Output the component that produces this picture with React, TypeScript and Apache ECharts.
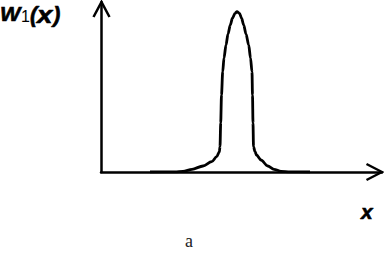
import React, { useEffect, useRef } from "react";
import * as echarts from "echarts";

// Curve sample points (x along axis, height above baseline)
const curveX = [
  49, 74, 82, 91, 102, 110.7, 115.7, 118.3, 119, 119.7, 120.5, 121.7, 123, 125, 127, 129.3, 131.5, 134, 136,
  138.5, 140.5, 142.7, 145, 147.7, 149.5, 151, 151.5, 152, 152.5, 154, 155.5, 160, 166.7, 173, 180, 189, 209,
];
const curveY = [
  0, 0.2, 0.7, 2.7, 6, 10.3, 15.3, 20, 25.3, 49, 77, 100.3, 114, 127, 138, 147, 154, 158.7, 160.3,
  158.7, 154, 147, 138, 127, 114, 100.3, 77, 49, 25.3, 20.5, 17, 12, 6, 2.7, 0.7, 0.2, 0,
];

const xMax = 281;
const yMax = 170;

const yLabelMain = "W";
const yLabelSub = "1";
const yLabelOpen = "(";
const yLabelVar = "x";
const yLabelClose = ")";
const xLabel = "x";
const panelLabel = "a";

const sans = "Liberation Sans, Arial, sans-serif";

export default function App() {
  const ref = useRef<HTMLDivElement>(null);
  useEffect(() => {
    if (!ref.current) return;
    const chart = echarts.init(ref.current, null, { renderer: "svg" });
    const data = curveX.map((x, i) => [x, curveY[i]]);
    const bi = (text: string, x: number, y: number, size: number, sx = 1) => ({
      type: "text",
      x,
      y,
      scaleX: sx,
      style: {
        text,
        fontFamily: sans,
        fontWeight: "bold",
        fontStyle: "italic",
        fontSize: size,
        fill: "#000",
        stroke: "#000",
        lineWidth: 0.6,
        verticalAlign: "top",
      },
    });
    chart.setOption({
      animation: false,
      backgroundColor: "#ffffff",
      grid: { left: 101, right: 2, top: 2, bottom: 81 },
      xAxis: {
        type: "value",
        min: 0,
        max: xMax,
        axisLine: { show: true, lineStyle: { color: "#000", width: 2.5 } },
        axisTick: { show: false },
        axisLabel: { show: false },
        splitLine: { show: false },
      },
      yAxis: {
        type: "value",
        min: 0,
        max: yMax,
        axisLine: { show: true, lineStyle: { color: "#000", width: 2.5 } },
        axisTick: { show: false },
        axisLabel: { show: false },
        splitLine: { show: false },
      },
      series: [
        {
          type: "line",
          data,
          showSymbol: false,
          smooth: 0.3,
          smoothMonotone: "x",
          lineStyle: { color: "#000", width: 2.8 },
          z: 3,
        },
      ],
      graphic: [
        {
          type: "polyline",
          shape: { points: [[93.5, 17], [101.5, 2], [109.5, 17]] },
          style: { stroke: "#000", lineWidth: 2.5, fill: "none" },
        },
        {
          type: "polyline",
          shape: { points: [[366.5, 164], [382, 172], [366.5, 180]] },
          style: { stroke: "#000", lineWidth: 2.5, fill: "none" },
        },
        bi(yLabelMain, 0, 4, 20, 1.08),
        {
          type: "text",
          x: 21,
          y: 8,
          style: {
            text: yLabelSub,
            fontFamily: sans,
            fontSize: 16,
            fill: "#000",
            verticalAlign: "top",
          },
        },
        bi(yLabelOpen, 30, 3, 22),
        bi(yLabelVar, 37, 3, 23, 1.2),
        bi(yLabelClose, 53, 3, 22),
        bi(xLabel, 361, 201, 21),
        {
          type: "text",
          x: 185,
          y: 232,
          style: {
            text: panelLabel,
            fontFamily: "Liberation Serif, serif",
            fontSize: 18,
            fill: "#222",
            verticalAlign: "top",
          },
        },
      ],
    });
    return () => chart.dispose();
  }, []);
  return (
    <div
      ref={ref}
      style={{ position: "fixed", left: 0, top: 0, width: 384, height: 253 }}
    />
  );
}
